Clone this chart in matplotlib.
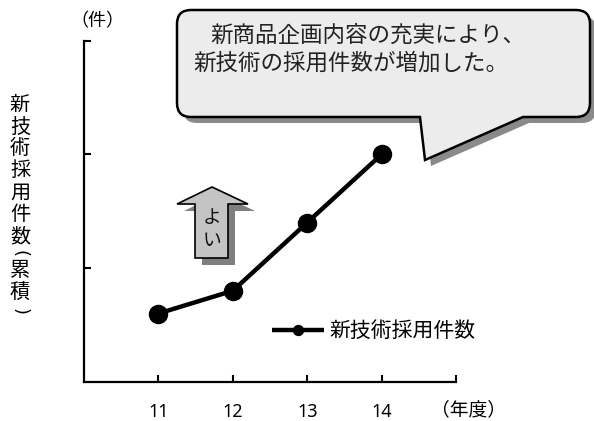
import matplotlib
matplotlib.use("Agg")
import matplotlib.pyplot as plt
from matplotlib.path import Path
from matplotlib.patches import PathPatch, Polygon

plt.rcParams['font.family'] = ['Noto Sans CJK JP', 'DejaVu Sans']

# ---- data ----
years = [11, 12, 13, 14]
year_labels = ['11', '12', '13', '14', '']
adoptions = [0.6, 0.8, 1.4, 2.0]
series_name = '新技術採用件数'
ylabel_chars = ['新', '技', '術', '採', '用', '件', '数', '(', '累', '積', ')']
callout_lines = ['新商品企画内容の充実により、', '新技術の採用件数が増加した。']

W, H = 594, 421
fig = plt.figure(figsize=(W / 100, H / 100), dpi=100)

def fx(x):
    return x / W

def fy(y):
    return 1 - y / H

# main axes
ax = fig.add_axes([fx(84), fy(381.7), fx(456) - fx(84), fy(40.7) - fy(381.7)])
ax.plot(years, adoptions, color='black', lw=3.2, marker='o', ms=13,
        markerfacecolor='black', label=series_name, solid_capstyle='butt')
ax.set_xlim(10, 15)
ax.set_ylim(0, 3)
ax.set_xticks([11, 12, 13, 14, 15])
ax.set_xticklabels(year_labels, family=['Noto Sans', 'DejaVu Sans'], fontsize=13)
ax.set_yticks([1, 2, 3])
ax.set_yticklabels([])
ax.tick_params(direction='in', length=5, width=1.5, color='black')
ax.tick_params(axis='x', pad=15)
for s in ['top', 'right']:
    ax.spines[s].set_visible(False)
for s in ['left', 'bottom']:
    ax.spines[s].set_linewidth(1.6)
ax.set_facecolor('none')

leg = ax.legend(loc='center left', bbox_to_anchor=(fx(272), fy(331)),
                bbox_transform=fig.transFigure, frameon=False, fontsize=15,
                handlelength=2.5, handletextpad=0.25, borderpad=0,
                borderaxespad=0, markerscale=0.55)

# overlay axes in pixel coordinates for annotations
ov = fig.add_axes([0, 0, 1, 1], zorder=5)
ov.set_xlim(0, W)
ov.set_ylim(H, 0)
ov.axis('off')
ov.patch.set_alpha(0)

# y label, stacked vertically
ypos = [105, 127, 149, 171, 193, 215, 237, 253, 270, 293, 312]
for ch, yy in zip(ylabel_chars, ypos):
    if ch in '()':
        ov.text(20, yy, ch, ha='center', va='center', fontsize=13, rotation=-90,
                family=['DejaVu Sans'], color='black')
    else:
        ov.text(20, yy, ch, ha='center', va='center', fontsize=14.5, color='black')

ov.text(97, 21, '（件）', ha='center', va='center', fontsize=13, color='black')
ov.text(469, 410, '（年度）', ha='center', va='center', fontsize=13.5, color='black')

# callout
def callout_path(x0, y0, x1, y1, r, b1, tip, b2):
    verts = [
        (x0 + r, y0), (x1 - r, y0), (x1, y0), (x1, y0 + r),
        (x1, y1 - r), (x1, y1), (x1 - r, y1),
        (b2, y1), tip, (b1, y1),
        (x0 + r, y1), (x0, y1), (x0, y1 - r),
        (x0, y0 + r), (x0, y0), (x0 + r, y0), (x0 + r, y0)]
    codes = [Path.MOVETO, Path.LINETO, Path.CURVE3, Path.CURVE3,
             Path.LINETO, Path.CURVE3, Path.CURVE3,
             Path.LINETO, Path.LINETO, Path.LINETO,
             Path.LINETO, Path.CURVE3, Path.CURVE3,
             Path.LINETO, Path.CURVE3, Path.CURVE3, Path.CLOSEPOLY]
    return Path(verts, codes)

bx0, by0, bx1, by1 = 177, 10, 590, 117
sh = 6
ov.add_patch(PathPatch(callout_path(bx0 + sh, by0 + sh, bx1 + sh, by1 + sh, 14,
                                    420 + sh, (425 + sh, 160 + sh), 523 + sh),
                       facecolor='#8a8a8a', edgecolor='none'))
ov.add_patch(PathPatch(callout_path(bx0, by0, bx1, by1, 14, 420, (425, 160), 523),
                       facecolor='#ececec', edgecolor='black', lw=1.8))
ov.text(210, 35, callout_lines[0], ha='left', va='center', fontsize=16.2, color='#222222')
ov.text(193, 63, callout_lines[1], ha='left', va='center', fontsize=16.2, color='#222222')

# "よい" arrow
def arrow_pts(dx, dy):
    pts = [(212, 187), (248, 204), (228, 204), (228, 258),
           (195, 258), (195, 204), (177, 204)]
    return [(x + dx, y + dy) for x, y in pts]

ov.add_patch(Polygon(arrow_pts(7, 7), closed=True, facecolor='#7f7f7f', edgecolor='none'))
ov.add_patch(Polygon(arrow_pts(0, 0), closed=True, facecolor='#c4c4c4',
                     edgecolor='black', lw=1.2))
ov.text(212, 217, 'よ', ha='center', va='center', fontsize=13.5, color='#111111')
ov.text(212, 241, 'い', ha='center', va='center', fontsize=13.5, color='#111111')

fig.savefig('out.png', dpi=100)
